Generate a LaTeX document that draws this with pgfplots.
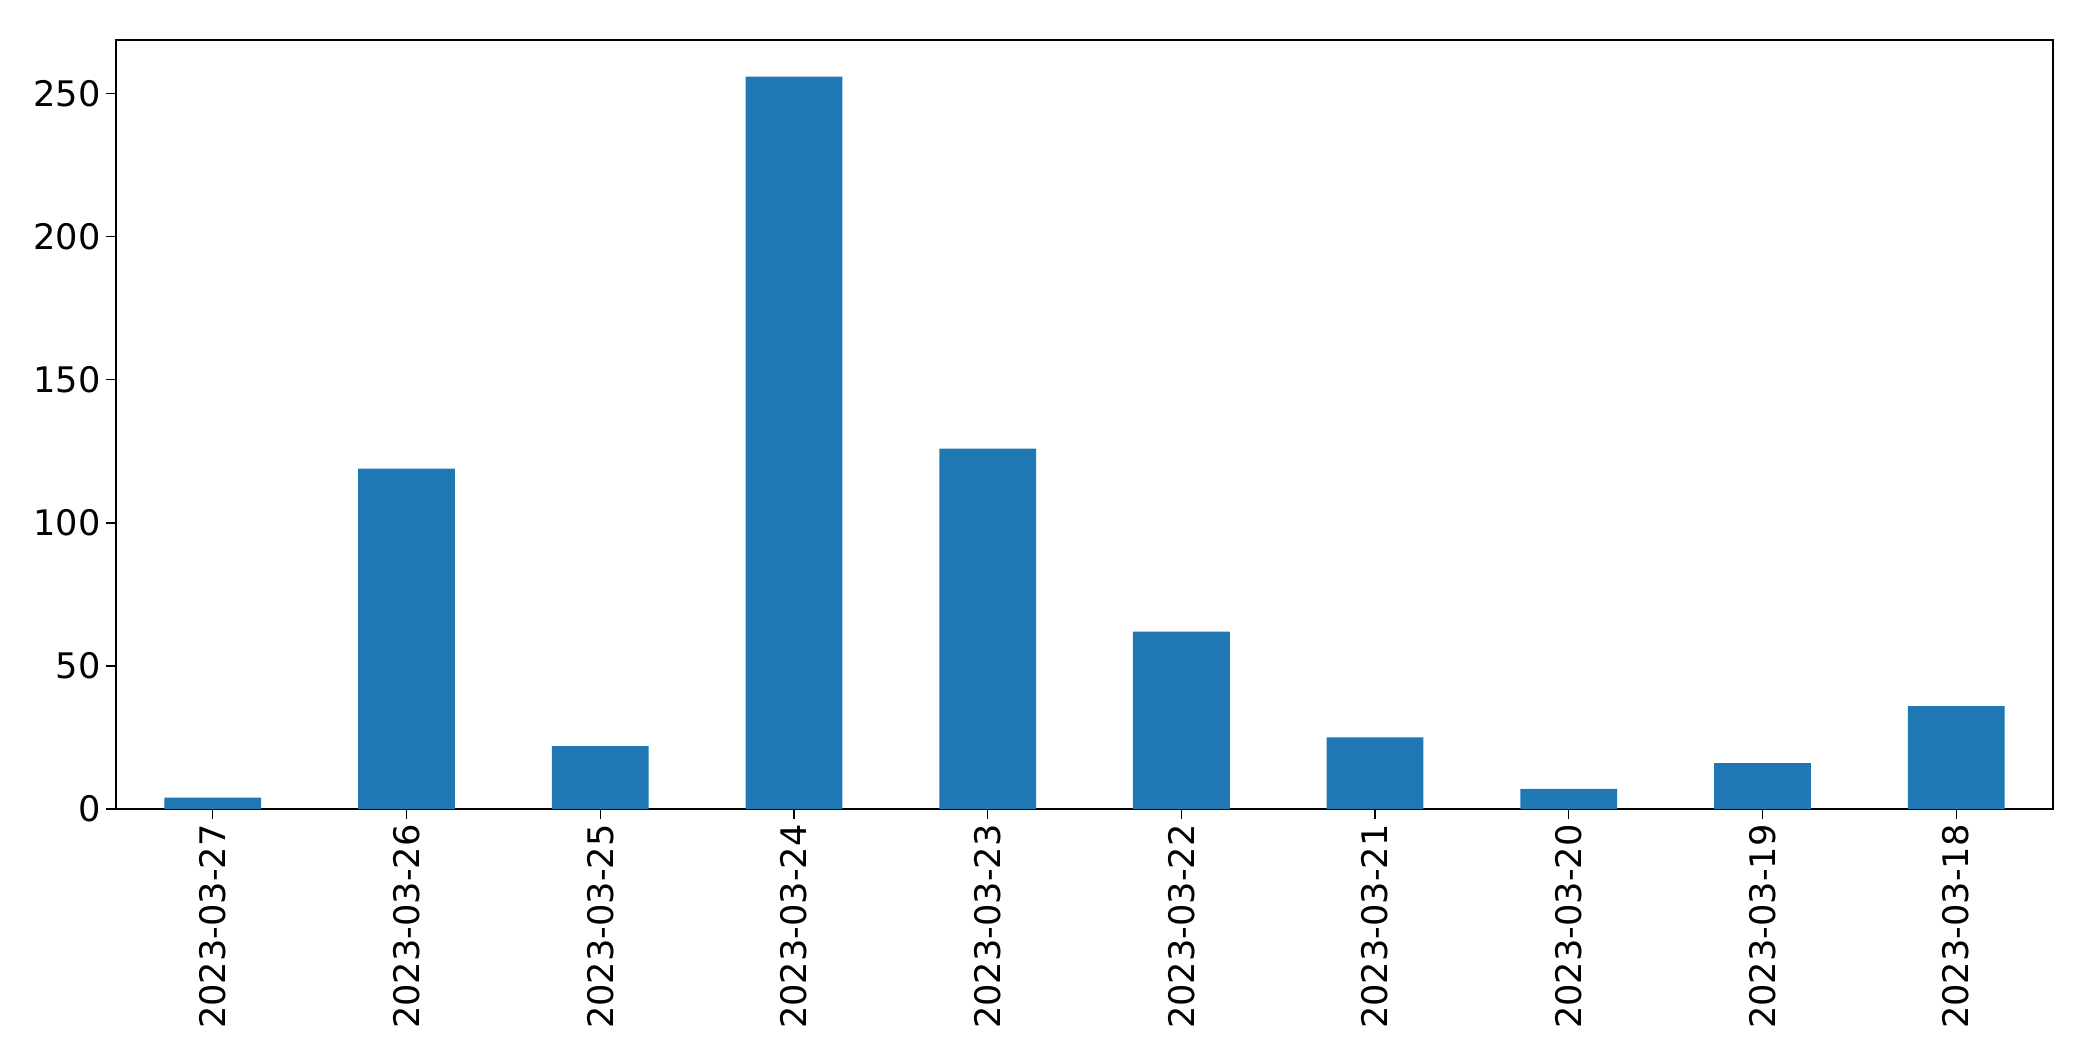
\documentclass[border=0pt]{standalone}
\usepackage{pgfplots}
\pgfplotsset{compat=1.18}
\usepackage{fontspec}
\setmainfont{DejaVu Sans}
\definecolor{mplblue}{HTML}{1F77B4}
\begin{document}
\begin{tikzpicture}
\begin{axis}[
  scale only axis,
  width=968.5pt, height=384.5pt,
  xmin=-0.5, xmax=9.5,
  ymin=0, ymax=268.8,
  xtick={0,...,9},
  xticklabels={2023-03-27,2023-03-26,2023-03-25,2023-03-24,2023-03-23,2023-03-22,2023-03-21,2023-03-20,2023-03-19,2023-03-18},
  ytick={0,50,100,150,200,250},
  tick align=outside,
  major tick length=5pt,
  tick style={black, line width=0.6pt},
  xtick pos=bottom, ytick pos=left,
  axis line style={black, line width=0.6pt},
  /pgf/number format/assume math mode=true,
  ticklabel style={font=\fontsize{17.6}{21}\selectfont},
  xticklabel style={rotate=90, anchor=east, inner sep=2.5pt},
  yticklabel style={inner sep=2.5pt},
]
\addplot[ybar, bar width=48.4pt, fill=mplblue, draw=none] coordinates {
(0,4) (1,119) (2,22) (3,256) (4,126) (5,62) (6,25) (7,7) (8,16) (9,36)
};
\end{axis}
\path (current axis.south west) ++(-58pt,-126pt) rectangle ([shift={(20pt,20pt)}]current axis.north east);
\end{tikzpicture}
\end{document}
